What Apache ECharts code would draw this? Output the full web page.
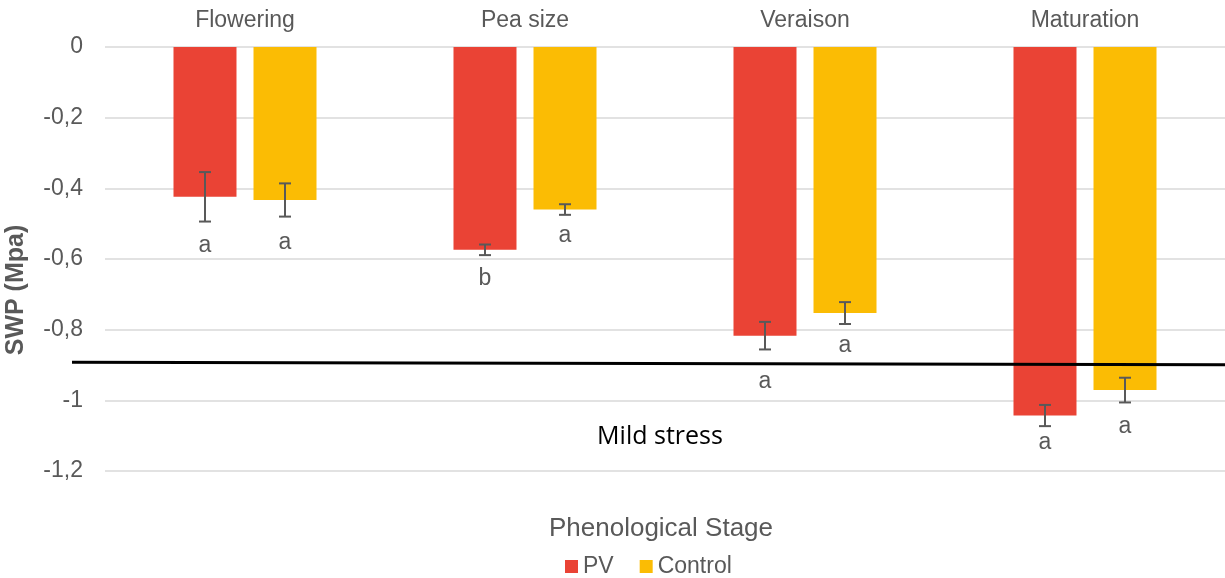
<!DOCTYPE html>
<html>
<head>
<meta charset="utf-8">
<script src="https://cdn.jsdelivr.net/npm/echarts@6/dist/echarts.min.js"></script>
<style>
  html, body { margin: 0; padding: 0; background: #fff; }
  #chart { width: 1225px; height: 578px; }
</style>
</head>
<body>
<div id="chart"></div>
<script>
// ---- DATA ----
const categories = ['Flowering', 'Pea size', 'Veraison', 'Maturation'];
const pvMean = [-0.424, -0.574, -0.817, -1.043];
const pvErr = [0.070, 0.015, 0.039, 0.030];
const controlMean = [-0.433, -0.460, -0.753, -0.971];
const controlErr = [0.047, 0.015, 0.031, 0.035];
const pvLetters = ['a', 'b', 'a', 'a'];
const controlLetters = ['a', 'a', 'a', 'a'];
const pvLetterPos = [-0.561, -0.655, -0.948, -1.119];
const controlLetterPos = [-0.554, -0.535, -0.844, -1.075];
const mildStressStart = -0.892;
const mildStressEnd = -0.899;
const yTicks = [0, -0.2, -0.4, -0.6, -0.8, -1, -1.2];

// ---- STYLE ----
const FONT = '"Liberation Sans", Arial, sans-serif';
const GREY = '#595959';
const RED = '#EA4335';
const YELLOW = '#FBBC04';
const BAR_W = 63;
const BAR_GAP = 0.27;

const chart = echarts.init(document.getElementById('chart'), null, { renderer: 'canvas' });

function errSeries(name, means, errs, letters, letterPos, sign) {
  return {
    name: name + ' err',
    type: 'custom',
    z: 5,
    silent: true,
    clip: false,
    data: means.map((m, i) => [i, m, errs[i], letterPos[i]]),
    renderItem: function (params, api) {
      const off = sign * BAR_W * (1 + BAR_GAP) / 2;
      const c = api.value(0);
      const m = api.value(1);
      const e = api.value(2);
      const lp = api.value(3);
      const top = api.coord([c, m + e]);
      const bot = api.coord([c, m - e]);
      const lab = api.coord([c, lp]);
      const x = top[0] + off;
      const cap = 6;
      const st = { stroke: GREY, lineWidth: 2 };
      return {
        type: 'group',
        children: [
          { type: 'line', shape: { x1: x, y1: top[1], x2: x, y2: bot[1] }, style: st },
          { type: 'line', shape: { x1: x - cap, y1: top[1], x2: x + cap, y2: top[1] }, style: st },
          { type: 'line', shape: { x1: x - cap, y1: bot[1], x2: x + cap, y2: bot[1] }, style: st },
          { type: 'text', x: x, y: lab[1], style: {
              text: letters[params.dataIndex], fill: GREY, font: '23px ' + FONT,
              textAlign: 'center', textVerticalAlign: 'middle' } }
        ]
      };
    }
  };
}

const option = {
  animation: false,
  backgroundColor: '#ffffff',
  textStyle: { fontFamily: FONT },
  grid: { left: 105, right: 0, top: 47, bottom: 107, containLabel: false },
  legend: {
    data: ['PV', 'Control'],
    left: 560,
    top: 550,
    icon: 'rect',
    itemWidth: 13,
    itemHeight: 13,
    itemGap: 26,
    textStyle: { fontSize: 23, color: GREY, fontFamily: FONT }
  },
  xAxis: {
    type: 'category',
    data: categories,
    position: 'top',
    axisLine: { show: false },
    axisTick: { show: false },
    axisLabel: { fontSize: 23, color: GREY, margin: 15, fontFamily: FONT },
    splitLine: { show: false }
  },
  yAxis: {
    type: 'value',
    min: -1.2,
    max: 0,
    interval: 0.2,
    axisLine: { show: false },
    axisTick: { show: false },
    axisLabel: {
      fontSize: 23, color: GREY, margin: 22, fontFamily: FONT,
      formatter: v => String(+v.toFixed(1)).replace('.', ',')
    },
    splitLine: { lineStyle: { color: '#d9d9d9', width: 1.5 } }
  },
  series: [
    {
      name: 'PV', type: 'bar', data: pvMean, barWidth: BAR_W, barGap: (BAR_GAP * 100) + '%',
      itemStyle: { color: RED }
    },
    {
      name: 'Control', type: 'bar', data: controlMean, barWidth: BAR_W,
      itemStyle: { color: YELLOW }
    },
    errSeries('PV', pvMean, pvErr, pvLetters, pvLetterPos, -1),
    errSeries('Control', controlMean, controlErr, controlLetters, controlLetterPos, 1)
  ]
};
chart.setOption(option);

// Mild stress threshold line and annotations
const yStart = chart.convertToPixel({ yAxisIndex: 0 }, mildStressStart);
const yEnd = chart.convertToPixel({ yAxisIndex: 0 }, mildStressEnd);
chart.setOption({
  graphic: [
    { type: 'line', z: 10, shape: { x1: 72, y1: yStart, x2: 1225, y2: yEnd },
      style: { stroke: '#000', lineWidth: 3 } },
    { type: 'text', x: 660, y: 437, z: 10, style: {
        text: 'Mild stress', fill: '#000', font: '25px "Open Sans", sans-serif',
        textAlign: 'center', textVerticalAlign: 'middle' } },
    { type: 'text', x: 661, y: 529, style: {
        text: 'Phenological Stage', fill: GREY, font: '26px ' + FONT,
        textAlign: 'center', textVerticalAlign: 'middle' } },
    { type: 'text', x: 16, y: 290, rotation: Math.PI / 2, style: {
        text: 'SWP (Mpa)', fill: GREY, font: 'bold 25px ' + FONT,
        textAlign: 'center', textVerticalAlign: 'middle' } }
  ]
});
</script>
</body>
</html>
